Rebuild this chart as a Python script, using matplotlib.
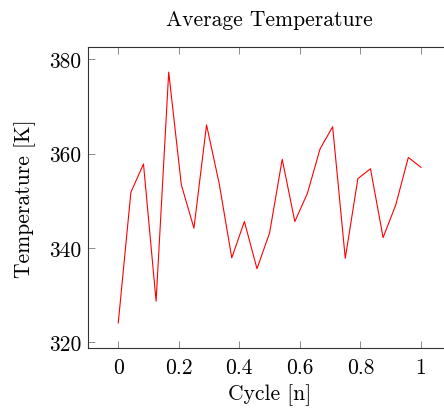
import numpy as np
import matplotlib
matplotlib.use("Agg")
import matplotlib.pyplot as plt
from matplotlib.ticker import FuncFormatter

plt.rcParams['font.family'] = ['cmr10', 'DejaVu Serif']
plt.rcParams['mathtext.fontset'] = 'cm'
plt.rcParams['axes.formatter.use_mathtext'] = True

cycle = np.arange(25) / 24
temperature = [324.1, 351.8, 357.8, 328.7, 377.3, 353.4, 344.2, 366.1, 353.7,
               337.9, 345.6, 335.6, 343.2, 358.8, 345.6, 351.6, 361.0, 365.7,
               337.8, 354.7, 356.8, 342.2, 349.1, 359.2, 357.1]
xticks = [0, 0.2, 0.4, 0.6, 0.8, 1]
yticks = [320, 340, 360, 380]

fs = 15.5
fig = plt.figure(figsize=(4.44, 4.14), dpi=100)
ax = fig.add_axes([88/444, 1-349/414, (451.2-88)/444, (349-48)/414])
ax.plot(cycle, temperature, color='red', lw=0.8)

ymin, ymax = min(temperature), max(temperature)
pad = 0.1 * (ymax - ymin)
ax.set_ylim(ymin - pad, ymax + pad)
ax.set_xlim(-0.1, 1.1)
ax.set_xticks(xticks)
ax.set_yticks(yticks)
ax.xaxis.set_major_formatter(FuncFormatter(lambda v, p: '%g' % v))
ax.yaxis.set_major_formatter(FuncFormatter(lambda v, p: '%g' % v))
ax.tick_params(direction='in', top=True, right=True, length=5, width=0.6,
               color='#777777', labelsize=fs, pad=5)
ax.tick_params(axis='x', pad=7)
for s in ax.spines.values():
    s.set_linewidth(0.8)
    s.set_color('#333333')
ax.set_xlabel('Cycle [n]', fontsize=fs, labelpad=4)
ax.set_ylabel('Temperature [K]', fontsize=fs, labelpad=9)
ax.set_title('Average Temperature', fontsize=fs, pad=16)

fig.savefig('out.png', dpi=100)
